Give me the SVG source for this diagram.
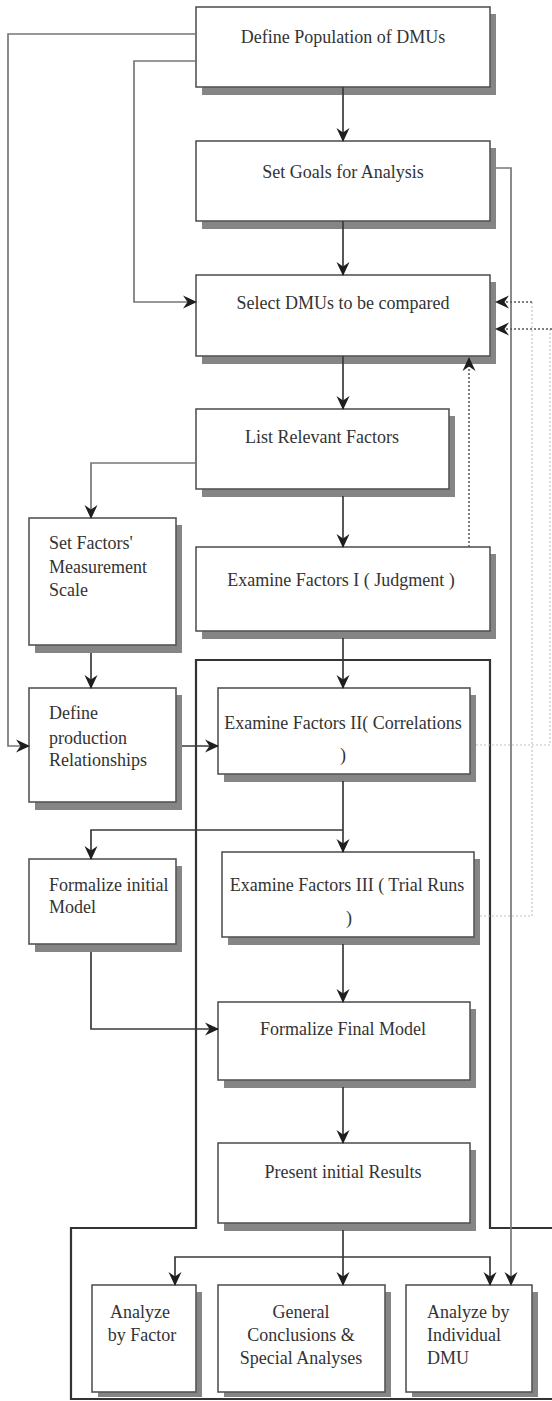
<svg xmlns="http://www.w3.org/2000/svg" width="552" height="1401" viewBox="0 0 552 1401">
<style>
.sh{fill:#858585;}
.bx{fill:#fff;stroke:#555;stroke-width:1.6;}
.t{font-family:"Liberation Serif","DejaVu Serif","Times New Roman",serif;font-size:18px;fill:#333;}
.c{text-anchor:middle;}
.ln{fill:none;stroke:#3a3a3a;stroke-width:1.7;}
.gl{fill:none;stroke:#777;stroke-width:1.7;}
.dt{fill:none;stroke:#555;stroke-width:1.5;stroke-dasharray:2 2;}
.fd{fill:none;stroke:#c4c4c4;stroke-width:1.2;stroke-dasharray:2 2;}
.ct{fill:none;stroke:#333;stroke-width:2.2;}
</style>
<defs>
<marker id="ah" viewBox="0 0 14 14" refX="13" refY="7" markerWidth="14" markerHeight="14" markerUnits="userSpaceOnUse" orient="auto">
<path d="M0,0.5 L14,7 L0,13.5 L4.5,7 z" fill="#1e1e1e"/>
</marker>
</defs>
<rect width="552" height="1401" fill="#fff"/>
<path id="container" class="ct" d="M552,1228 L490,1228 L490,660 L196,660 L196,1228 L71,1228 L71,1399 L552,1399"/>
<g id="nodes">
<g id="n_define_pop"><rect class="sh" x="202" y="14" width="294" height="81"/><rect class="bx" x="196" y="7" width="294" height="80"/><text class="t c" x="343" y="43">Define Population of DMUs</text></g>
<g id="n_set_goals"><rect class="sh" x="202" y="148" width="294" height="81"/><rect class="bx" x="196" y="141" width="294" height="80"/><text class="t c" x="343" y="178">Set Goals for Analysis</text></g>
<g id="n_select"><rect class="sh" x="202" y="282" width="294" height="82"/><rect class="bx" x="196" y="275" width="294" height="81"/><text class="t c" x="343" y="309">Select DMUs to be compared</text></g>
<g id="n_list"><rect class="sh" x="202" y="416" width="253" height="81"/><rect class="bx" x="196" y="409" width="253" height="80"/><text class="t c" x="322" y="443">List Relevant Factors</text></g>
<g id="n_exam1"><rect class="sh" x="202" y="554" width="294" height="85"/><rect class="bx" x="196" y="547" width="294" height="84"/><text class="t c" x="341" y="586">Examine Factors I ( Judgment )</text></g>
<g id="n_set_factors"><rect class="sh" x="35" y="525" width="147" height="128"/><rect class="bx" x="29" y="518" width="147" height="127"/><text class="t" x="49" y="549">Set Factors'</text><text class="t" x="49" y="573">Measurement</text><text class="t" x="49" y="596">Scale</text></g>
<g id="n_define_prod"><rect class="sh" x="35" y="695" width="147" height="115"/><rect class="bx" x="29" y="688" width="147" height="114"/><text class="t" x="49" y="719">Define</text><text class="t" x="49" y="744">production</text><text class="t" x="49" y="766">Relationships</text></g>
<g id="n_exam2"><rect class="sh" x="224" y="695" width="252" height="87"/><rect class="bx" x="218" y="688" width="252" height="86"/><text class="t c" x="343" y="729">Examine Factors II( Correlations</text><text class="t c" x="343" y="761">)</text></g>
<g id="n_form_init"><rect class="sh" x="35" y="866" width="147" height="86"/><rect class="bx" x="29" y="859" width="147" height="85"/><text class="t" x="49" y="891">Formalize initial</text><text class="t" x="49" y="913">Model</text></g>
<g id="n_exam3"><rect class="sh" x="228" y="859" width="252" height="86"/><rect class="bx" x="222" y="852" width="252" height="85"/><text class="t c" x="347" y="891">Examine Factors III ( Trial Runs</text><text class="t c" x="349" y="924">)</text></g>
<g id="n_form_final"><rect class="sh" x="224" y="1009" width="252" height="79"/><rect class="bx" x="218" y="1002" width="252" height="78"/><text class="t c" x="343" y="1035">Formalize Final Model</text></g>
<g id="n_present"><rect class="sh" x="224" y="1150" width="252" height="81"/><rect class="bx" x="218" y="1143" width="252" height="80"/><text class="t c" x="343" y="1178">Present initial Results</text></g>
<g id="n_an_factor"><rect class="sh" x="98" y="1292" width="104" height="105"/><rect class="bx" x="92" y="1285" width="104" height="107"/><text class="t c" x="140" y="1318">Analyze</text><text class="t c" x="142" y="1341">by Factor</text></g>
<g id="n_general"><rect class="sh" x="224" y="1292" width="167" height="105"/><rect class="bx" x="218" y="1285" width="167" height="107"/><text class="t c" x="301" y="1318">General</text><text class="t c" x="301" y="1341">Conclusions &amp;</text><text class="t c" x="301" y="1364">Special Analyses</text></g>
<g id="n_an_dmu"><rect class="sh" x="412" y="1292" width="126" height="105"/><rect class="bx" x="406" y="1285" width="126" height="107"/><text class="t" x="427" y="1318">Analyze by</text><text class="t" x="427" y="1341">Individual</text><text class="t" x="427" y="1364">DMU</text></g>
</g>
<g id="connectors">
<path class="ln" marker-end="url(#ah)" d="M343,87 L343,141"/>
<path class="ln" marker-end="url(#ah)" d="M343,221 L343,275"/>
<path class="ln" marker-end="url(#ah)" d="M343,356 L343,409"/>
<path class="ln" marker-end="url(#ah)" d="M343,496 L343,547"/>
<path class="ln" marker-end="url(#ah)" d="M343,638 L343,688"/>
<path class="ln" marker-end="url(#ah)" d="M343,781 L343,852"/>
<path class="ln" marker-end="url(#ah)" d="M343,830 L91,830 L91,859"/>
<path class="ln" marker-end="url(#ah)" d="M343,944 L343,1002"/>
<path class="ln" marker-end="url(#ah)" d="M343,1087 L343,1143"/>
<path class="ln" marker-end="url(#ah)" d="M343,1230 L343,1285"/>
<path class="ln" marker-end="url(#ah)" d="M343,1257 L175,1257 L175,1285"/>
<path class="ln" marker-end="url(#ah)" d="M343,1257 L490,1257 L490,1285"/>
<path class="gl" marker-end="url(#ah)" d="M196,34 L8,34 L8,746 L29,746"/>
<path class="gl" marker-end="url(#ah)" d="M196,61 L134,61 L134,302 L196,302"/>
<path class="gl" marker-end="url(#ah)" d="M496,168 L511,168 L511,1285"/>
<path class="gl" marker-end="url(#ah)" d="M196,463 L91,463 L91,518"/>
<path class="ln" marker-end="url(#ah)" d="M91,653 L91,688"/>
<path class="ln" marker-end="url(#ah)" d="M182,746 L218,746"/>
<path class="ln" marker-end="url(#ah)" d="M91,952 L91,1029 L218,1029"/>
<path class="dt" marker-end="url(#ah)" d="M469,547 L469,358"/>
<path class="fd" d="M480,916 L532,916 L532,302"/>
<path class="dt" marker-end="url(#ah)" d="M532,302 L496,302"/>
<path class="fd" d="M476,745 L550,745 L550,329"/>
<path class="dt" marker-end="url(#ah)" d="M552,329 L496,329"/>
</g>
</svg>
